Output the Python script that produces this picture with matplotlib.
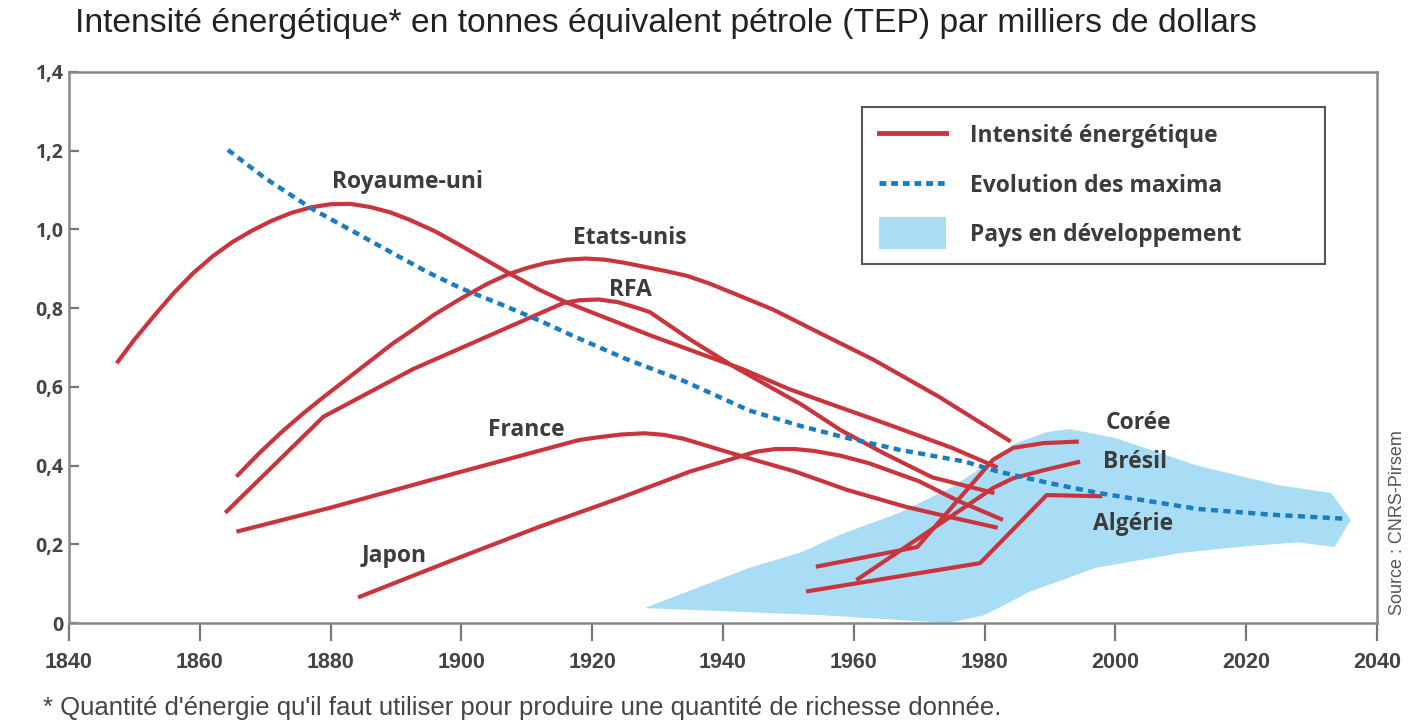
import numpy as np
import matplotlib
matplotlib.use('agg')
import matplotlib.pyplot as plt
from matplotlib.lines import Line2D
from matplotlib.patches import Patch, Rectangle
from matplotlib.legend_handler import HandlerPatch

# --- data ---
uk_years = [1847.3, 1850, 1853, 1856, 1859, 1862, 1865, 1868, 1871, 1874, 1877, 1880, 1883, 1886,
            1889, 1892, 1896, 1900, 1904, 1908, 1912, 1916, 1929, 1943, 1950, 1955, 1966, 1975, 1982]
uk_vals = [0.66, 0.72, 0.78, 0.838, 0.889, 0.932, 0.968, 0.997, 1.022, 1.042, 1.056, 1.064, 1.065, 1.057,
           1.044, 1.025, 0.995, 0.958, 0.92, 0.882, 0.846, 0.815, 0.73, 0.645, 0.595, 0.565, 0.50, 0.445, 0.395]

us_years = [1865.6, 1869, 1872.5, 1876, 1879, 1882.5, 1886, 1889.5, 1892.6, 1896, 1900, 1904, 1907,
            1910, 1913, 1916, 1919, 1922, 1925, 1928, 1931, 1934.5, 1938, 1942, 1947.7, 1955, 1963,
            1973, 1984]
us_vals = [0.372, 0.43, 0.485, 0.535, 0.575, 0.62, 0.665, 0.71, 0.745, 0.785, 0.825, 0.862, 0.885,
           0.902, 0.915, 0.923, 0.926, 0.923, 0.915, 0.905, 0.895, 0.882, 0.862, 0.835, 0.796, 0.735,
           0.669, 0.575, 0.461]

rfa_years = [1863.9, 1878.9, 1892.6, 1915.6, 1918, 1921, 1924, 1927, 1928.8, 1935, 1941.6, 1952,
             1958, 1964.5, 1972, 1981.5]
rfa_vals = [0.28, 0.524, 0.645, 0.813, 0.82, 0.822, 0.815, 0.80, 0.79, 0.72, 0.652, 0.555,
            0.49, 0.432, 0.37, 0.33]

fr_years = [1865.6, 1880, 1899, 1918, 1921, 1924.5, 1928, 1931, 1934, 1938, 1943, 1951, 1959, 1968,
            1975, 1982]
fr_vals = [0.232, 0.293, 0.38, 0.465, 0.472, 0.479, 0.482, 0.478, 0.468, 0.448, 0.423, 0.385, 0.338,
           0.295, 0.268, 0.242]

jp_years = [1884.2, 1898.7, 1912, 1924.3, 1935, 1942, 1945, 1948, 1951, 1954, 1958, 1962.3, 1970,
            1976, 1982.8]
jp_vals = [0.065, 0.16, 0.245, 0.318, 0.385, 0.42, 0.435, 0.442, 0.442, 0.437, 0.425, 0.406, 0.36,
           0.31, 0.262]

kr_years = [1954.2, 1969.7, 1981.3, 1984.4, 1989, 1994.4]
kr_vals = [0.143, 0.193, 0.415, 0.445, 0.457, 0.461]

br_years = [1960.4, 1981.3, 1984.4, 1989, 1994.6]
br_vals = [0.109, 0.343, 0.368, 0.388, 0.41]

dz_years = [1952.7, 1979.3, 1989.5, 1998]
dz_vals = [0.08, 0.152, 0.325, 0.322]

max_years = [1864.3, 1870, 1877.4, 1884, 1890, 1895, 1900, 1906, 1912, 1917, 1925, 1934, 1944, 1952,
             1959, 1967, 1977, 1982, 1990, 1997.5, 2005, 2012.5, 2024, 2035]
max_vals = [1.202, 1.13, 1.05, 0.99, 0.935, 0.89, 0.85, 0.81, 0.768, 0.73, 0.672, 0.615, 0.54, 0.5,
            0.47, 0.44, 0.41, 0.385, 0.355, 0.33, 0.31, 0.29, 0.275, 0.265]

dev_years = [1928, 1944, 1952, 1958, 1967, 1975, 1980, 1984.5, 1989.5, 1993, 2000, 2012.5, 2025, 2033,
             2036, 2033.5, 2028, 2020, 2010, 1997, 1987, 1980, 1974.5, 1955]
dev_vals = [0.038, 0.14, 0.18, 0.225, 0.28, 0.345, 0.40, 0.455, 0.485, 0.493, 0.47, 0.40, 0.35, 0.33,
            0.262, 0.193, 0.205, 0.195, 0.178, 0.14, 0.08, 0.02, 0.0, 0.02]

labels = ['Royaume-uni', 'Etats-unis', 'RFA', 'France', 'Japon', 'Corée', 'Brésil', 'Algérie']
label_pos = [(1891.7, 1.12), (1925.8, 0.979), (1925.8, 0.847), (1910, 0.49), (1889.8, 0.17),
             (2003.5, 0.508), (2003, 0.409), (2002.7, 0.252)]

legend_labels = ['Intensité énergétique', 'Evolution des maxima', 'Pays en développement']

xticks = [1840, 1860, 1880, 1900, 1920, 1940, 1960, 1980, 2000, 2020, 2040]
yticks = [0, 0.2, 0.4, 0.6, 0.8, 1.0, 1.2, 1.4]
ytick_labels = ['0', '0,2', '0,4', '0,6', '0,8', '1,0', '1,2', '1,4']

RED = '#c9353d'
BLUE = '#1a7cc1'
FILL = '#a9ddf6'
GREY = '#3c3c3c'
SANS = ['Liberation Sans', 'DejaVu Sans']
LAB = ['Open Sans', 'DejaVu Sans']

plt.rcParams['font.family'] = SANS


def tall_patch(legend, orig_handle, xdescent, ydescent, width, height, fontsize):
    # legend swatch a bit taller than the row box
    extra = 0.3 * height
    return Rectangle((-xdescent, -ydescent - extra), width, height + 2 * extra)


fig = plt.figure(figsize=(14.19, 7.24), dpi=100)
ax = fig.add_axes([0.0486, 0.1395, 0.9218, 0.7611])

ax.fill(dev_years, dev_vals, color=FILL, lw=0, zorder=1)
ax.plot(max_years, max_vals, color=BLUE, lw=3.2, ls=(0, (1.6, 1.2)), zorder=3)

series = [(uk_years, uk_vals), (us_years, us_vals), (rfa_years, rfa_vals), (fr_years, fr_vals),
          (jp_years, jp_vals), (kr_years, kr_vals), (br_years, br_vals), (dz_years, dz_vals)]
for xs, ys in series:
    ax.plot(xs, ys, color=RED, lw=3, solid_capstyle='butt', solid_joinstyle='round', zorder=2)

for name, (lx, ly) in zip(labels, label_pos):
    ax.text(lx, ly, name, ha='center', va='center', fontsize=16.5, fontweight='bold',
            family=LAB, color=GREY, zorder=4)

ax.set_xlim(1840, 2040)
ax.set_ylim(0, 1.4)
ax.set_xticks(xticks)
ax.set_xticklabels([str(t) for t in xticks], family=SANS, fontsize=15.5, fontweight='bold', color='#444444')
ax.set_yticks(yticks)
ax.set_yticklabels(ytick_labels, family=LAB, fontsize=14, fontweight='bold', color='#444444')
ax.tick_params(axis='x', direction='out', length=13, width=1.6, color='#777777', pad=8)
ax.tick_params(axis='y', direction='in', length=7, width=1.6, color='#777777', pad=4)
for sp in ax.spines.values():
    sp.set_color('#888888')
    sp.set_linewidth(1.8)

handles = [Line2D([], [], color=RED, lw=3.5),
           Line2D([], [], color=BLUE, lw=3.5, ls=(0, (1.4, 1.0))),
           Patch(facecolor=FILL, edgecolor='none')]
leg = ax.legend(handles, legend_labels,
                loc='upper left', bbox_to_anchor=(0.6063, 0.650, 0.354, 0.2865), mode='expand',
                borderaxespad=0, prop={'family': LAB, 'size': 16.5, 'weight': 'bold'},
                handlelength=2.9, handleheight=1.0, handletextpad=1.05, labelspacing=1.1,
                borderpad=0.75, frameon=True, fancybox=False, framealpha=1,
                handler_map={Patch: HandlerPatch(patch_func=tall_patch)})
leg.get_frame().set_edgecolor('#555555')
leg.get_frame().set_linewidth(1.5)
for t in leg.get_texts():
    t.set_color(GREY)

fig.text(0.053, 0.968, 'Intensité énergétique* en tonnes équivalent pétrole (TEP) par milliers de dollars',
         fontsize=24.2, color='#222222', va='center', ha='left')
fig.text(0.03, 0.022, "* Quantité d'énergie qu'il faut utiliser pour produire une quantité de richesse donnée.",
         family=SANS, fontsize=18.5, color='#444444', va='center', ha='left')
fig.text(0.985, 0.278, 'Source : CNRS-Pirsem', family=SANS, fontsize=13, color='#555555',
         rotation=90, va='center', ha='center')

fig.savefig('out.png', dpi=100)
